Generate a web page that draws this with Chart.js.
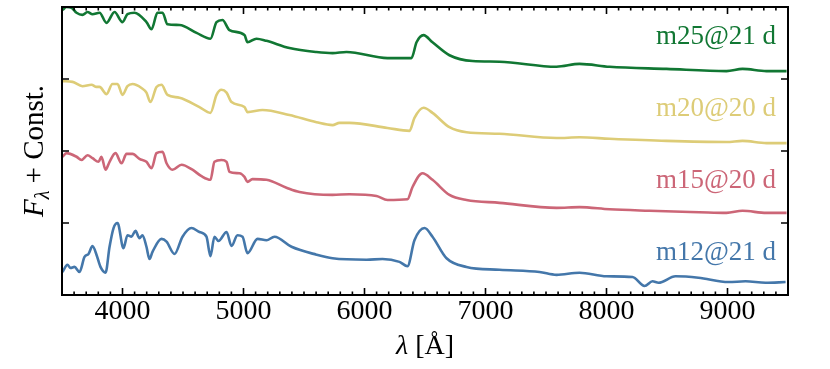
<!DOCTYPE html>
<html>
<head>
<meta charset="utf-8">
<script src="https://cdn.jsdelivr.net/npm/chart.js@4"></script>
<style>
  html, body { margin: 0; padding: 0; background: #fff; }
  #wrap { width: 830px; height: 369px; }
</style>
</head>
<body>
<div id="wrap"><canvas id="graficoEspectros"></canvas></div>
<script>
// wavelengths (Angstrom) and fluxes, fluxes without the offset
const onda12 = [3505,3545,3570,3603,3645,3686,3719,3752,3785,3818,3860,3893,3926,3959,4008,4041,4074,4107,4140,4165,4198,4223,4248,4322,4364,4430,4496,4570,4636,4694,4727,4760,4793,4860,4901,4950,4992,5033,5116,5190,5256,5397,5603,5736,6017,6149,6289,6355,6413,6496,6562,6678,6843,7116,7446,7587,7777,8000,8215,8314,8380,8430,8570,8760,9008,9149,9314,9480]
const fluxo12 = [0.32,0.42,0.375,0.39,0.32,0.53,0.57,0.68,0.56,0.39,0.31,0.67,0.93,1.00,0.65,0.83,0.81,0.89,0.79,0.83,0.67,0.50,0.60,0.78,0.74,0.57,0.81,0.93,0.875,0.81,0.54,0.81,0.75,0.875,0.68,0.83,0.81,0.58,0.78,0.76,0.81,0.67,0.56,0.51,0.49,0.50,0.46,0.40,0.76,0.93,0.81,0.51,0.39,0.35,0.32,0.28,0.31,0.26,0.25,0.125,0.19,0.17,0.26,0.24,0.18,0.19,0.17,0.18]

const onda15 = [3505,3537,3620,3661,3711,3752,3802,3826,3860,3893,3942,3992,4033,4083,4140,4198,4240,4281,4331,4364,4413,4488,4578,4653,4727,4760,4818,4860,4884,4967,5008,5033,5074,5190,5355,5463,5736,5876,6099,6190,6355,6397,6479,6562,6702,6843,7116,7587,7777,8025,8355,8768,8992,9124,9322,9488]
const fluxo15 = [0.92,0.97,0.92,0.875,0.94,0.90,0.85,0.92,0.74,0.85,0.97,0.83,0.96,0.96,0.89,0.85,0.76,0.97,0.99,0.83,0.74,0.81,0.74,0.65,0.60,0.85,0.875,0.85,0.71,0.69,0.64,0.57,0.61,0.60,0.49,0.43,0.39,0.40,0.375,0.32,0.33,0.50,0.69,0.60,0.39,0.32,0.28,0.21,0.22,0.19,0.17,0.15,0.14,0.17,0.14,0.14]

const onda20 = [3505,3587,3669,3744,3785,3810,3868,3917,3959,4000,4041,4083,4157,4198,4231,4281,4322,4372,4471,4636,4727,4777,4818,4860,4901,5008,5033,5157,5380,5603,5736,5793,5876,6190,6372,6413,6488,6562,6702,6843,7116,7587,7777,8025,8496,8992,9124,9322,9488]
const fluxo20 = [0.97,0.96,0.90,0.92,0.89,0.89,0.79,0.93,0.93,0.78,0.90,0.93,0.875,0.81,0.68,0.89,0.92,0.78,0.74,0.61,0.53,0.78,0.85,0.81,0.68,0.61,0.54,0.57,0.50,0.40,0.36,0.39,0.39,0.32,0.28,0.46,0.60,0.53,0.33,0.26,0.24,0.18,0.19,0.17,0.14,0.125,0.14,0.11,0.11]

const onda25 = [3505,3537,3579,3620,3669,3711,3752,3810,3868,3934,4000,4041,4099,4198,4240,4289,4331,4372,4471,4612,4727,4777,4826,4884,5008,5033,5107,5190,5380,5603,5736,5851,6190,6388,6430,6488,6562,6702,6893,7116,7587,7777,8025,8496,8992,9124,9322,9488]
const fluxo25 = [0.96,1.00,0.99,0.92,0.89,0.93,0.90,0.92,0.78,0.93,0.79,0.90,0.92,0.79,0.69,0.92,0.92,0.76,0.75,0.64,0.56,0.79,0.82,0.68,0.61,0.51,0.56,0.53,0.43,0.375,0.36,0.375,0.29,0.29,0.51,0.61,0.51,0.33,0.25,0.24,0.17,0.21,0.17,0.14,0.11,0.14,0.11,0.11]

const modelos = ['m12@21 d', 'm15@20 d', 'm20@20 d', 'm25@21 d']
const constantes = [0, 1, 2, 3]
const cores = ['#4477aa', '#cc6677', '#ddcc77', '#117733']
const ticksX = [4000, 5000, 6000, 7000, 8000, 9000]
const ticksY = [1, 2, 3]

const ondas = [onda12, onda15, onda20, onda25]
const fluxos = [fluxo12, fluxo15, fluxo20, fluxo25]

function montaSerie (i) {
  return ondas[i].map((l, k) => ({ x: l, y: fluxos[i][k] + constantes[i] }))
}

const fonte = '"Liberation Serif", "DejaVu Serif", serif'

// frame, inward ticks, axis titles and the model labels
const moldura = {
  id: 'moldura',
  afterDraw (chart) {
    const { ctx, chartArea: a, scales: { x, y } } = chart
    ctx.save()
    ctx.strokeStyle = '#000'
    ctx.lineWidth = 2
    ctx.strokeRect(a.left, a.top, a.right - a.left, a.bottom - a.top)

    ctx.lineWidth = 1.6
    ctx.beginPath()
    for (let v = 3600; v < 9500; v += 100) {
      const px = x.getPixelForValue(v)
      const len = v % 1000 === 0 ? 7 : 3.5
      ctx.moveTo(px, a.bottom); ctx.lineTo(px, a.bottom - len)
      ctx.moveTo(px, a.top); ctx.lineTo(px, a.top + len)
    }
    ticksY.forEach(v => {
      const py = y.getPixelForValue(v)
      ctx.moveTo(a.left, py); ctx.lineTo(a.left + 7, py)
      ctx.moveTo(a.right, py); ctx.lineTo(a.right - 7, py)
    })
    ctx.stroke()

    // y title: F_lambda + Const.
    ctx.fillStyle = '#000'
    ctx.textBaseline = 'alphabetic'
    ctx.translate(43, (a.top + a.bottom) / 2)
    ctx.rotate(-Math.PI / 2)
    const partes = [
      { t: 'F', f: 'italic 29px ' + fonte, dy: 0 },
      { t: 'λ', f: 'italic 20px ' + fonte, dy: 6 },
      { t: ' + Const.', f: '29px ' + fonte, dy: 0 }
    ]
    let total = 0
    partes.forEach(p => { ctx.font = p.f; p.w = ctx.measureText(p.t).width; total += p.w })
    let cx = -total / 2
    partes.forEach(p => { ctx.font = p.f; ctx.fillText(p.t, cx, p.dy); cx += p.w })
    ctx.setTransform(1, 0, 0, 1, 0, 0)

    // x title: lambda [Å]
    const px = [
      { t: 'λ', f: 'italic 28px ' + fonte },
      { t: ' [Å]', f: '28px ' + fonte }
    ]
    total = 0
    px.forEach(p => { ctx.font = p.f; p.w = ctx.measureText(p.t).width; total += p.w })
    cx = (a.left + a.right) / 2 - total / 2
    px.forEach(p => { ctx.font = p.f; ctx.fillText(p.t, cx, 354); cx += p.w })

    // model labels
    ctx.font = '27px ' + fonte
    ctx.textAlign = 'right'
    modelos.forEach((m, i) => {
      ctx.fillStyle = cores[i]
      ctx.fillText(m, a.right - 12, y.getPixelForValue(constantes[i] + 0.49))
    })
    ctx.restore()
  }
}

const graficoEspectros = new Chart(document.getElementById('graficoEspectros'), {
  type: 'line',
  data: {
    datasets: modelos.map((m, i) => ({
      label: m,
      data: montaSerie(i),
      borderColor: cores[i],
      borderWidth: 2.6,
      pointRadius: 0,
      cubicInterpolationMode: 'monotone',
      fill: false
    }))
  },
  options: {
    responsive: true,
    maintainAspectRatio: false,
    animation: false,
    layout: { padding: { top: 7, right: 42, left: 62, bottom: 0 } },
    plugins: { legend: { display: false }, tooltip: { enabled: false } },
    scales: {
      x: {
        type: 'linear',
        min: 3500,
        max: 9500,
        grid: { display: false, drawTicks: false },
        border: { display: false },
        afterBuildTicks: s => { s.ticks = ticksX.map(v => ({ value: v })) },
        afterFit: s => { s.height = 74 },
        ticks: {
          color: '#000',
          padding: 0,
          maxRotation: 0,
          font: { family: fonte, size: 28 },
          callback: v => String(v)
        }
      },
      y: {
        display: false,
        min: 0,
        max: 4
      }
    }
  },
  plugins: [moldura]
})
</script>
</body>
</html>
